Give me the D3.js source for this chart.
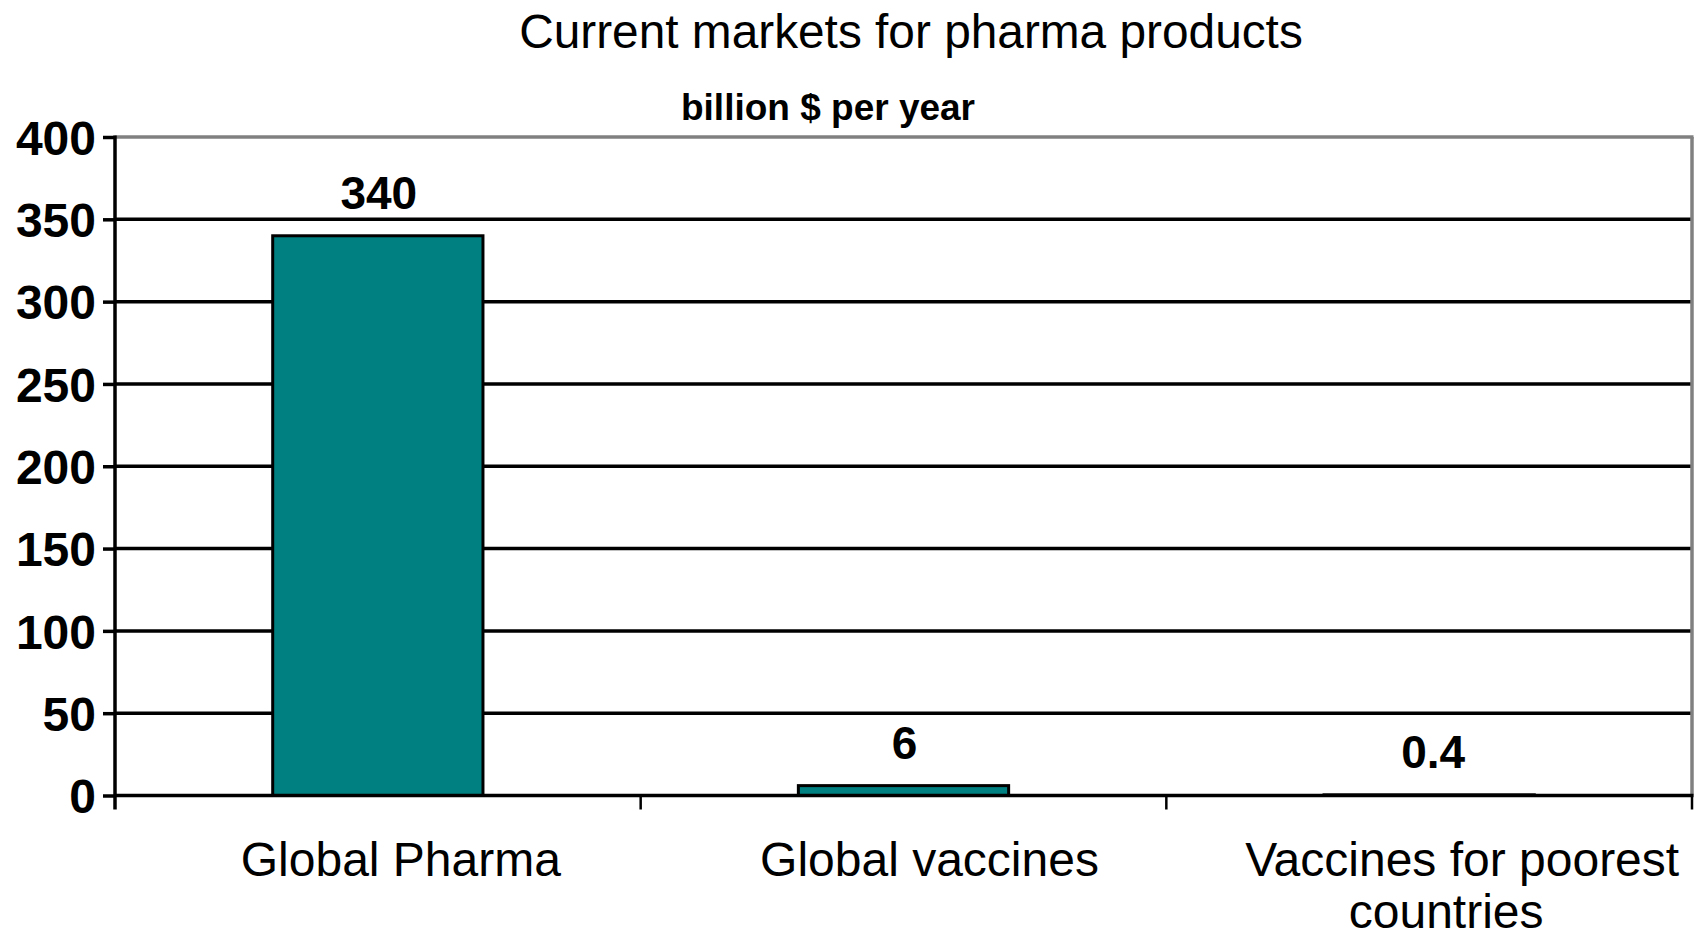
<!DOCTYPE html>
<html>
<head>
<meta charset="utf-8">
<script src="https://cdn.jsdelivr.net/npm/d3@7/dist/d3.min.js"></script>
<style>
  html, body { margin: 0; padding: 0; background: #ffffff; }
  svg { display: block; font-family: "Liberation Sans", Arial, sans-serif; }
</style>
</head>
<body>
<svg id="chart" width="1695" height="937"></svg>
<script>
// ---- data ----
const categories = ["Global Pharma", "Global vaccines", "Vaccines for poorest countries"];
const values = [340, 6, 0.4];
const valueLabels = ["340", "6", "0.4"];
const categoryLines = [["Global Pharma"], ["Global vaccines"], ["Vaccines for poorest", "countries"]];
const yTicks = [0, 50, 100, 150, 200, 250, 300, 350, 400];
const chartTitle = "Current markets for pharma products";
const chartSubtitle = "billion $ per year";

(function () {
// ---- layout ----
const W = 1695, H = 937;
const pLeft = 115, pRight = 1692, pTop = 137, pBottom = 795.5;
const svg = d3.select("#chart");
svg.append("rect").attr("width", W).attr("height", H).attr("fill", "#ffffff");

const y = d3.scaleLinear().domain([0, 400]).range([pBottom, pTop]);
const x = d3.scaleBand().domain(categories).range([pLeft, pRight]).padding(0);
const barW = x.bandwidth() * 0.40;

// gridlines (interior)
svg.append("g").selectAll("line")
  .data(yTicks.filter(t => t > 0 && t < 400))
  .join("line")
  .attr("x1", pLeft).attr("x2", pRight)
  .attr("y1", d => y(d)).attr("y2", d => y(d))
  .attr("stroke", "#000").attr("stroke-width", 3.5);

// plot border top & right (gray)
svg.append("line").attr("x1", pLeft).attr("x2", pRight + 1.5)
  .attr("y1", y(400)).attr("y2", y(400))
  .attr("stroke", "#808080").attr("stroke-width", 3.5);
svg.append("line").attr("x1", pRight).attr("x2", pRight)
  .attr("y1", y(400)).attr("y2", y(0))
  .attr("stroke", "#808080").attr("stroke-width", 3.5);

// bars
svg.append("g").selectAll("rect")
  .data(values)
  .join("rect")
  .attr("x", (d, i) => x(categories[i]) + (x.bandwidth() - barW) / 2)
  .attr("width", barW)
  .attr("y", d => y(d))
  .attr("height", d => y(0) - y(d))
  .attr("fill", "#008080")
  .attr("stroke", "#000")
  .attr("stroke-width", 3);

// baseline
svg.append("line").attr("x1", pLeft).attr("x2", pRight + 1.5)
  .attr("y1", y(0)).attr("y2", y(0))
  .attr("stroke", "#000").attr("stroke-width", 3.5);

// y axis
const yAxis = d3.axisLeft(y).tickValues(yTicks).tickSize(12).tickPadding(7).tickFormat(d3.format("d"));
const gy = svg.append("g").attr("transform", `translate(${pLeft},0)`).call(yAxis);
gy.select(".domain").remove();
gy.selectAll(".tick line").attr("stroke", "#000").attr("stroke-width", 3.5);
gy.selectAll(".tick text")
  .attr("fill", "#000")
  .style("font-family", '"Liberation Sans", Arial, sans-serif')
  .style("font-size", "48px").style("font-weight", "bold")
  .attr("dy", "0.36em");
svg.append("line").attr("x1", pLeft).attr("x2", pLeft)
  .attr("y1", y(400) - 1.5).attr("y2", y(0) + 14)
  .attr("stroke", "#000").attr("stroke-width", 3.5);

// category ticks at band boundaries
const bounds = categories.map(c => x(c)).concat([x.range()[1]]);
svg.append("g").selectAll("line")
  .data(bounds.slice(1))
  .join("line")
  .attr("x1", d => d).attr("x2", d => d)
  .attr("y1", y(0)).attr("y2", y(0) + 14)
  .attr("stroke", "#000").attr("stroke-width", 2.5);

// value labels
svg.append("g").selectAll("text")
  .data(values)
  .join("text")
  .attr("x", (d, i) => x(categories[i]) + x.bandwidth() / 2 + (i === 2 ? 4 : 1))
  .attr("y", d => y(d) - 27)
  .attr("text-anchor", "middle")
  .attr("font-size", 46).attr("font-weight", "bold").attr("fill", "#000")
  .text((d, i) => valueLabels[i]);

// category labels
const lineDx = [[23], [26], [33, 17]];
categoryLines.forEach((lines, i) => {
  lines.forEach((ln, j) => {
    svg.append("text")
      .attr("x", x(categories[i]) + x.bandwidth() / 2 + lineDx[i][j])
      .attr("y", 876 + j * 52)
      .attr("text-anchor", "middle")
      .attr("font-size", 48).attr("fill", "#000")
      .text(ln);
  });
});

// title & subtitle
svg.append("text").attr("x", 911).attr("y", 48)
  .attr("text-anchor", "middle").attr("font-size", 47.8).attr("fill", "#000")
  .text(chartTitle);
svg.append("text").attr("x", 828).attr("y", 120)
  .attr("text-anchor", "middle").attr("font-size", 37).attr("font-weight", "bold").attr("fill", "#000")
  .text(chartSubtitle);
})();
</script>
</body>
</html>
